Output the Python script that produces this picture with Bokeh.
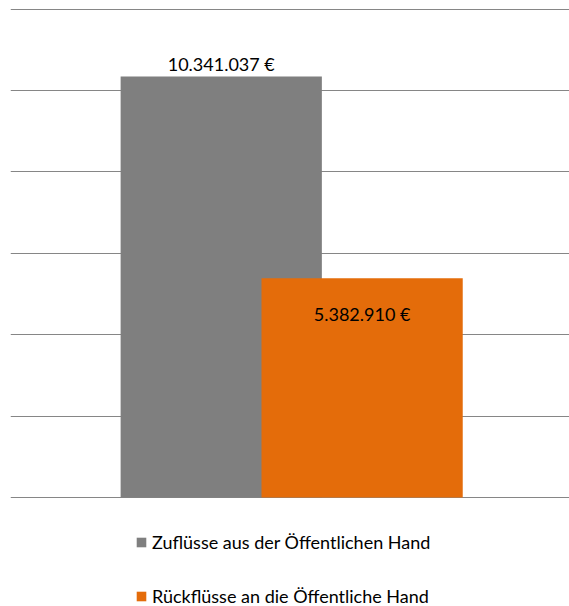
from bokeh.plotting import figure
from bokeh.models import ColumnDataSource, FactorRange, Range1d, FixedTicker, Legend, LegendItem
from bokeh.transform import dodge
from bokeh.embed import file_html
from bokeh.resources import INLINE
from bokeh.core.properties import value

# ---- data ----
group = ["Summe"]
series = ["Zuflüsse aus der Öffentlichen Hand", "Rückflüsse an die Öffentliche Hand"]
amounts = [10341037, 5382910]
colors = ["#7f7f7f", "#e46c0a"]
y_ticks = [0, 2000000, 4000000, 6000000, 8000000, 10000000, 12000000]


def fmt(v):
    return f"{v:,}".replace(",", ".") + " €"


labels = [fmt(v) for v in amounts]

# ---- layout ----
W, H = 569, 606
BASE = 497          # baseline pixel row (from figure top)
TOP = 8.5           # top grid pixel row
ppu = (BASE - TOP) / y_ticks[-1]
y_end = y_ticks[-1] + TOP / ppu
y_start = -(H - BASE) / ppu

FONT = "Lato"
FS = "18px"

p = figure(width=W, height=H, output_backend="svg", toolbar_location=None,
           x_range=FactorRange(*group, range_padding=0),
           y_range=Range1d(y_start, y_end),
           x_axis_location=None, y_axis_location=None,
           min_border_left=10, min_border_right=0, min_border_top=0, min_border_bottom=0)
p.outline_line_color = None
p.xgrid.visible = False
p.ygrid.ticker = FixedTicker(ticks=y_ticks)
p.ygrid.grid_line_color = "#868686"
p.ygrid.grid_line_width = 1
p.background_fill_color = "white"
p.border_fill_color = "white"

offsets = [-0.123, 0.129]
label_offsets = [-13, 36]
bar_width = 0.36
renderers = []
for i in range(len(series)):
    src = ColumnDataSource(dict(cat=group, amount=[amounts[i]], label=[labels[i]]))
    r = p.vbar(x=dodge("cat", offsets[i], range=p.x_range), top="amount", bottom=0,
               width=bar_width, source=src, fill_color=colors[i], line_color=None)
    renderers.append(r)
    p.text(x=dodge("cat", offsets[i], range=p.x_range), y="amount", text="label", source=src,
           text_align="center", text_baseline="middle", y_offset=label_offsets[i],
           text_font=value(FONT), text_font_size=FS, text_color="#000000")

legend = Legend(items=[LegendItem(label=series[i], renderers=[renderers[i]]) for i in range(len(series))],
                location=(125, -1), orientation="vertical",
                glyph_width=12, glyph_height=12, label_standoff=5, spacing=32,
                padding=0, margin=0, border_line_color=None, background_fill_alpha=0,
                label_text_font=FONT, label_text_font_size=FS, label_text_color="#000000")
p.add_layout(legend)

open("out.html", "w").write(file_html(p, INLINE))
